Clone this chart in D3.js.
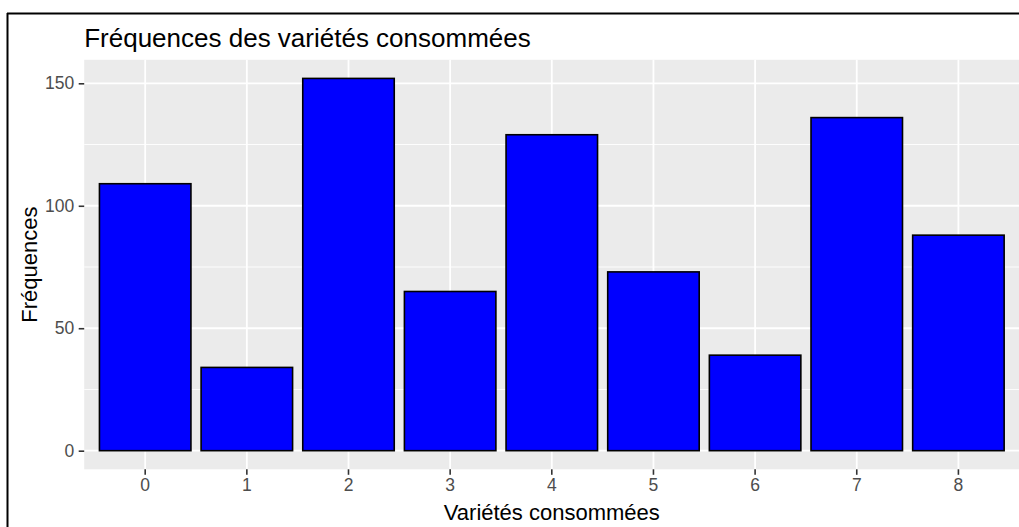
<!DOCTYPE html>
<html>
<head>
<meta charset="utf-8">
<script src="https://cdn.jsdelivr.net/npm/d3@7"></script>
<style>
  html, body { margin: 0; padding: 0; background: #fff; }
  svg { display: block; font-family: "Liberation Sans", Arial, sans-serif; }
</style>
</head>
<body>
<svg id="chart" width="1019" height="527"></svg>
<script>
const categories = ["0", "1", "2", "3", "4", "5", "6", "7", "8"];
const frequencies = [109, 34, 152, 65, 129, 73, 39, 136, 88];
const yTicks = [0, 50, 100, 150];
const yMinorTicks = [25, 75, 125];
const chartTitle = "Fréquences des variétés consommées";
const xTitle = "Variétés consommées";
const yTitle = "Fréquences";

const svg = d3.select("#chart");
const W = 1019, H = 527;

// frame of the surrounding document figure
svg.append("line").attr("x1", 7).attr("x2", W).attr("y1", 13.5).attr("y2", 13.5)
  .attr("stroke", "#000").attr("stroke-width", 2);
svg.append("line").attr("x1", 7.5).attr("x2", 7.5).attr("y1", 13).attr("y2", H)
  .attr("stroke", "#000").attr("stroke-width", 2);

const panel = { left: 84.2, right: 1019.4, top: 59.8, bottom: 469.3 };
const ymax = d3.max(frequencies);
const x = d3.scaleBand().domain(categories).range([panel.left, panel.right])
  .paddingInner(0.1).paddingOuter(0.15);
const y = d3.scaleLinear().domain([-0.05 * ymax, ymax * 1.05]).range([panel.bottom, panel.top]);

// panel background
svg.append("rect").attr("x", panel.left).attr("y", panel.top)
  .attr("width", panel.right - panel.left).attr("height", panel.bottom - panel.top)
  .attr("fill", "#EBEBEB");

// minor grid
svg.append("g").selectAll("line").data(yMinorTicks).join("line")
  .attr("x1", panel.left).attr("x2", panel.right)
  .attr("y1", d => y(d)).attr("y2", d => y(d))
  .attr("stroke", "#fff").attr("stroke-width", 0.9);
// major grid
svg.append("g").selectAll("line").data(yTicks).join("line")
  .attr("x1", panel.left).attr("x2", panel.right)
  .attr("y1", d => y(d)).attr("y2", d => y(d))
  .attr("stroke", "#fff").attr("stroke-width", 1.8);
svg.append("g").selectAll("line").data(categories).join("line")
  .attr("x1", d => x(d) + x.bandwidth() / 2).attr("x2", d => x(d) + x.bandwidth() / 2)
  .attr("y1", panel.top).attr("y2", panel.bottom)
  .attr("stroke", "#fff").attr("stroke-width", 1.8);

// bars
svg.append("g").selectAll("rect").data(frequencies).join("rect")
  .attr("x", (d, i) => x(categories[i]))
  .attr("width", x.bandwidth())
  .attr("y", d => y(d))
  .attr("height", d => y(0) - y(d))
  .attr("fill", "#0000FF")
  .attr("stroke", "#000")
  .attr("stroke-width", 1.6);

// y axis
const yAxis = svg.append("g").attr("transform", `translate(${panel.left},0)`)
  .call(d3.axisLeft(y).tickValues(yTicks).tickSize(5.5).tickPadding(4.5));
yAxis.select(".domain").remove();
yAxis.selectAll(".tick line").attr("stroke", "#333").attr("stroke-width", 1.6);
yAxis.selectAll(".tick text").attr("fill", "#4D4D4D").attr("font-size", 17.5)
  .attr("font-family", "Liberation Sans, Arial, sans-serif");

// x axis
const xAxis = svg.append("g").attr("transform", `translate(0,${panel.bottom})`)
  .call(d3.axisBottom(x).tickSize(5.5).tickPadding(4));
xAxis.select(".domain").remove();
xAxis.selectAll(".tick line").attr("stroke", "#333").attr("stroke-width", 1.6);
xAxis.selectAll(".tick text").attr("fill", "#4D4D4D").attr("font-size", 17.5)
  .attr("font-family", "Liberation Sans, Arial, sans-serif");

// titles
svg.append("text").attr("x", panel.left).attr("y", 47)
  .attr("font-size", 26).attr("fill", "#000").text(chartTitle);
svg.append("text").attr("x", (panel.left + panel.right) / 2).attr("y", 520)
  .attr("text-anchor", "middle").attr("font-size", 22).attr("fill", "#000").text(xTitle);
svg.append("text")
  .attr("transform", `translate(37,${(panel.top + panel.bottom) / 2}) rotate(-90)`)
  .attr("text-anchor", "middle").attr("font-size", 22).attr("fill", "#000").text(yTitle);
</script>
</body>
</html>
